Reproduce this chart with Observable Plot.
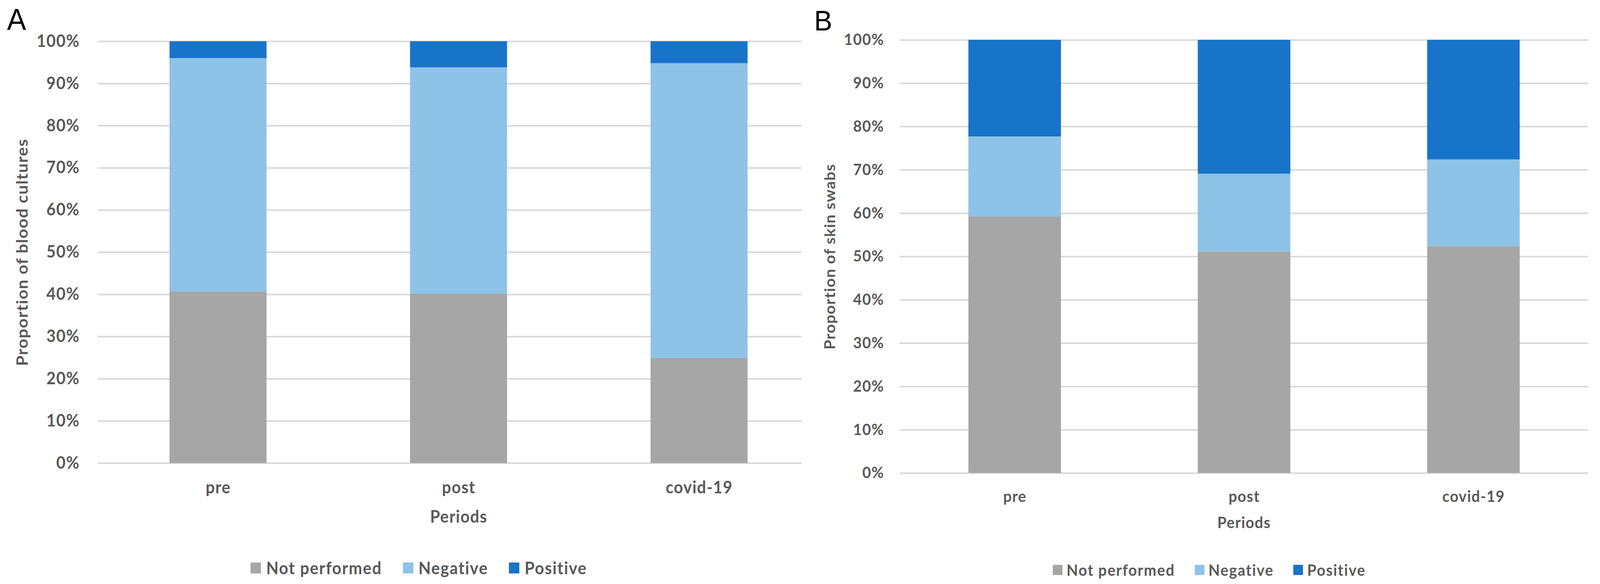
<!DOCTYPE html>
<html>
<head>
<meta charset="utf-8">
<script src="https://cdn.jsdelivr.net/npm/d3@7"></script>
<script src="https://cdn.jsdelivr.net/npm/@observablehq/plot@0.6"></script>
<style>
  html, body { margin: 0; padding: 0; background: #fff; overflow: hidden; }
  #root { position: relative; width: 4304px; height: 1494px; overflow: hidden; background: #fff; transform-origin: 0 0; }
  .panel { position: absolute; top: 0; }
  .panel svg { max-width: none !important; display: block; }
  .letter { position: absolute; font-family: "Liberation Sans", Arial, sans-serif; color: #000; line-height: 1; }
  .legend { position: absolute; display: flex; align-items: center; font-family: Lato, sans-serif; font-weight: 700; color: #595959; white-space: nowrap; letter-spacing: 2px; }
  .legend .item { display: flex; align-items: center; }
  .legend .sw { display: inline-block; }
</style>
</head>
<body>
<div id="root"></div>
<script>
// ---- data ----
const periods = ["pre", "post", "covid-19"];
const categories = ["Not performed", "Negative", "Positive"];
const categoryColors = ["#A6A6A6", "#8DC3E7", "#1874C9"];
const yTicks = [0, 10, 20, 30, 40, 50, 60, 70, 80, 90, 100];

// Panel A: blood cultures (percent)
const bloodNotPerformed = [40.7, 40.2, 24.9];
const bloodNegative = [55.3, 53.6, 69.9];
const bloodPositive = [4.0, 6.2, 5.2];

// Panel B: skin swabs (percent)
const swabNotPerformed = [59.2, 51.1, 52.4];
const swabNegative = [18.5, 18.0, 20.0];
const swabPositive = [22.3, 30.9, 27.6];

function toRows(series) {
  const rows = [];
  periods.forEach((p, i) => {
    categories.forEach((c, j) => rows.push({period: p, category: c, value: series[j][i]}));
  });
  return rows;
}

const bloodRows = toRows([bloodNotPerformed, bloodNegative, bloodPositive]);
const swabRows = toRows([swabNotPerformed, swabNegative, swabPositive]);

function makePanel(rows, cfg) {
  const svg = Plot.plot({
    width: cfg.width,
    height: 1494,
    marginLeft: cfg.marginLeft,
    marginRight: cfg.marginRight,
    marginTop: cfg.marginTop,
    marginBottom: cfg.marginBottom,
    style: {fontFamily: "Lato, sans-serif", fontWeight: 700, color: "#595959", background: "transparent", overflow: "visible", letterSpacing: "1.5px"},
    x: {domain: periods, paddingInner: 0.597, paddingOuter: 0.2985},
    y: {domain: [0, 100]},
    color: {domain: categories, range: categoryColors},
    marks: [
      Plot.ruleY(yTicks, {stroke: "#D9D9D9", strokeWidth: 4}),
      Plot.barY(rows, {x: "period", y: "value", fill: "category", order: categories}),
      Plot.axisY({ticks: yTicks, tickFormat: d => d + "%", tickSize: 0, tickPadding: cfg.yPad, fontSize: cfg.fs, label: null}),
      Plot.axisX({tickSize: 0, tickPadding: cfg.xPad, fontSize: cfg.fs, label: null}),
      Plot.text(["Periods"], {frameAnchor: "bottom", dy: cfg.xTitleDy, fontSize: cfg.fs, fill: "#595959", lineAnchor: "middle", textAnchor: "middle"}),
      Plot.text([cfg.yTitle], {frameAnchor: "left", rotate: -90, dx: cfg.yTitleDx, fontSize: cfg.fs, fill: "#595959", lineAnchor: "middle", textAnchor: "middle"})
    ]
  });
  svg.style.width = cfg.width + "px";
  svg.style.height = "1494px";
  svg.style.maxWidth = "none";
  return svg;
}

const root = document.getElementById("root");
// the browser viewport is narrower than 4304px: squeeze the 4304-wide layout to fit it
const sx = Math.min(1, window.innerWidth / 4304);
root.style.transform = "scale(" + sx + ", 1)";

// Panel A (right edge cropped, as in the figure)
const wrapA = document.createElement("div");
wrapA.className = "panel";
wrapA.style.left = "0px";
wrapA.style.width = "2156px";
wrapA.style.height = "1494px";
wrapA.style.overflow = "hidden";
wrapA.appendChild(makePanel(bloodRows, {
  width: 2204, marginLeft: 263, marginRight: 0, marginTop: 105.5, marginBottom: 309.5,
  fs: 43, yPad: 49, xPad: 46, xTitleDy: 138, yTitleDx: -203,
  yTitle: "Proportion of blood cultures"
}));
root.appendChild(wrapA);

// Panel B
const wrapB = document.createElement("div");
wrapB.className = "panel";
wrapB.style.left = "2150px";
wrapB.style.width = "2154px";
wrapB.appendChild(makePanel(swabRows, {
  width: 2154, marginLeft: 270, marginRight: 32, marginTop: 102, marginBottom: 284,
  fs: 40, yPad: 42, xPad: 45, xTitleDy: 128, yTitleDx: -187,
  yTitle: "Proportion of skin swabs"
}));
root.appendChild(wrapB);

// Panel letters
function letter(txt, left, top, size) {
  const d = document.createElement("div");
  d.className = "letter";
  d.textContent = txt;
  d.style.left = left + "px";
  d.style.top = top + "px";
  d.style.fontSize = size + "px";
  root.appendChild(d);
}
letter("A", 19, 12, 77);
letter("B", 2190, 16, 73);

// Legends
function legend(left, top, fs, sw, gapText, gapItem) {
  const L = document.createElement("div");
  L.className = "legend";
  L.style.left = left + "px";
  L.style.top = top + "px";
  L.style.fontSize = fs + "px";
  L.style.lineHeight = fs + "px";
  L.style.gap = gapItem + "px";
  categories.forEach((c, i) => {
    const it = document.createElement("div");
    it.className = "item";
    it.style.gap = gapText + "px";
    const s = document.createElement("span");
    s.className = "sw";
    s.style.width = sw + "px";
    s.style.height = sw + "px";
    s.style.background = categoryColors[i];
    const t = document.createElement("span");
    t.textContent = c;
    it.appendChild(s);
    it.appendChild(t);
    L.appendChild(it);
  });
  root.appendChild(L);
}
legend(674, 1431, 43, 28, 14, 56);
legend(2832, 1438, 40, 26, 11, 53);
</script>
</body>
</html>
